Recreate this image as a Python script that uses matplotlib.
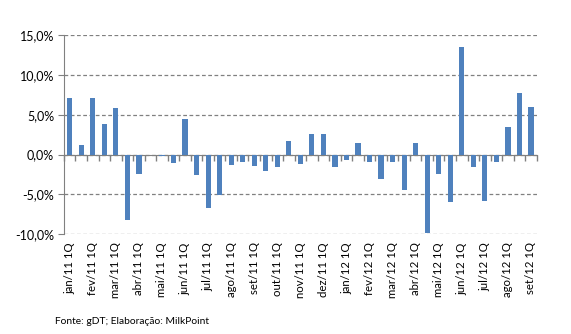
import matplotlib.pyplot as plt
import numpy as np

plt.rcParams['font.family'] = ['Lato', 'DejaVu Sans']

# quinzenas: 1Q and 2Q of each month, jan/11 1Q .. set/12 1Q
meses = ['jan/11', 'fev/11', 'mar/11', 'abr/11', 'mai/11', 'jun/11',
         'jul/11', 'ago/11', 'set/11', 'out/11', 'nov/11', 'dez/11',
         'jan/12', 'fev/12', 'mar/12', 'abr/12', 'mai/12', 'jun/12',
         'jul/12', 'ago/12', 'set/12']
variacao = [7.1, 1.2, 7.1, 3.8, 5.85, -8.25, -2.5, 0.0, -0.15, -1.1,
            4.45, -2.6, -6.75, -5.1, -1.35, -0.95, -1.45, -2.1, -1.6, 1.7,
            -1.2, 2.55, 2.55, -1.55, -0.7, 1.45, -0.95, -3.1, -0.95, -4.5,
            1.45, -9.85, -2.5, -6.0, 13.5, -1.55, -5.85, -0.95, 3.45, 7.75,
            6.0]

rotulos = []
for m in meses:
    rotulos.append(m + ' 1Q')
    rotulos.append('')
rotulos = rotulos[:len(variacao)]

x = np.arange(len(variacao))

fig = plt.figure(figsize=(5.71, 3.34), dpi=100)
ax = fig.add_axes([0.112, 0.299, 0.828, 0.596])

ax.bar(x, variacao, width=0.45, color='#4F81BD', zorder=3)

ax.set_xlim(-0.5, len(variacao) - 0.5)
ax.set_ylim(-10, 15)
ax.set_yticks([-10, -5, 0, 5, 10, 15])
ax.set_yticklabels(['-10,0%', '-5,0%', '0,0%', '5,0%', '10,0%', '15,0%'])
ax.yaxis.grid(True, linestyle=(0, (3, 2)), color='#808080', linewidth=0.9, zorder=0)

ax.set_xticks(x)
ax.set_xticklabels(rotulos, rotation=90, fontsize=8.2)
ax.tick_params(axis='x', length=0, pad=6)
ax.tick_params(axis='y', length=4, color='#808080', labelsize=9, pad=3)

for s in ['top', 'right', 'bottom']:
    ax.spines[s].set_visible(False)
ax.spines['left'].set_color('#808080')

# zero axis line with category ticks
eixo = ax.secondary_xaxis(0.4)
eixo.set_xticks(np.arange(len(variacao) + 1) - 0.5)
eixo.set_xticklabels([])
eixo.tick_params(length=4, color='#808080', width=1)
eixo.spines['bottom'].set_color('#808080')

fig.text(0.096, 0.03, 'Fonte: gDT; Elaboração: MilkPoint', fontsize=7.4)

fig.savefig('out.png', dpi=100)
